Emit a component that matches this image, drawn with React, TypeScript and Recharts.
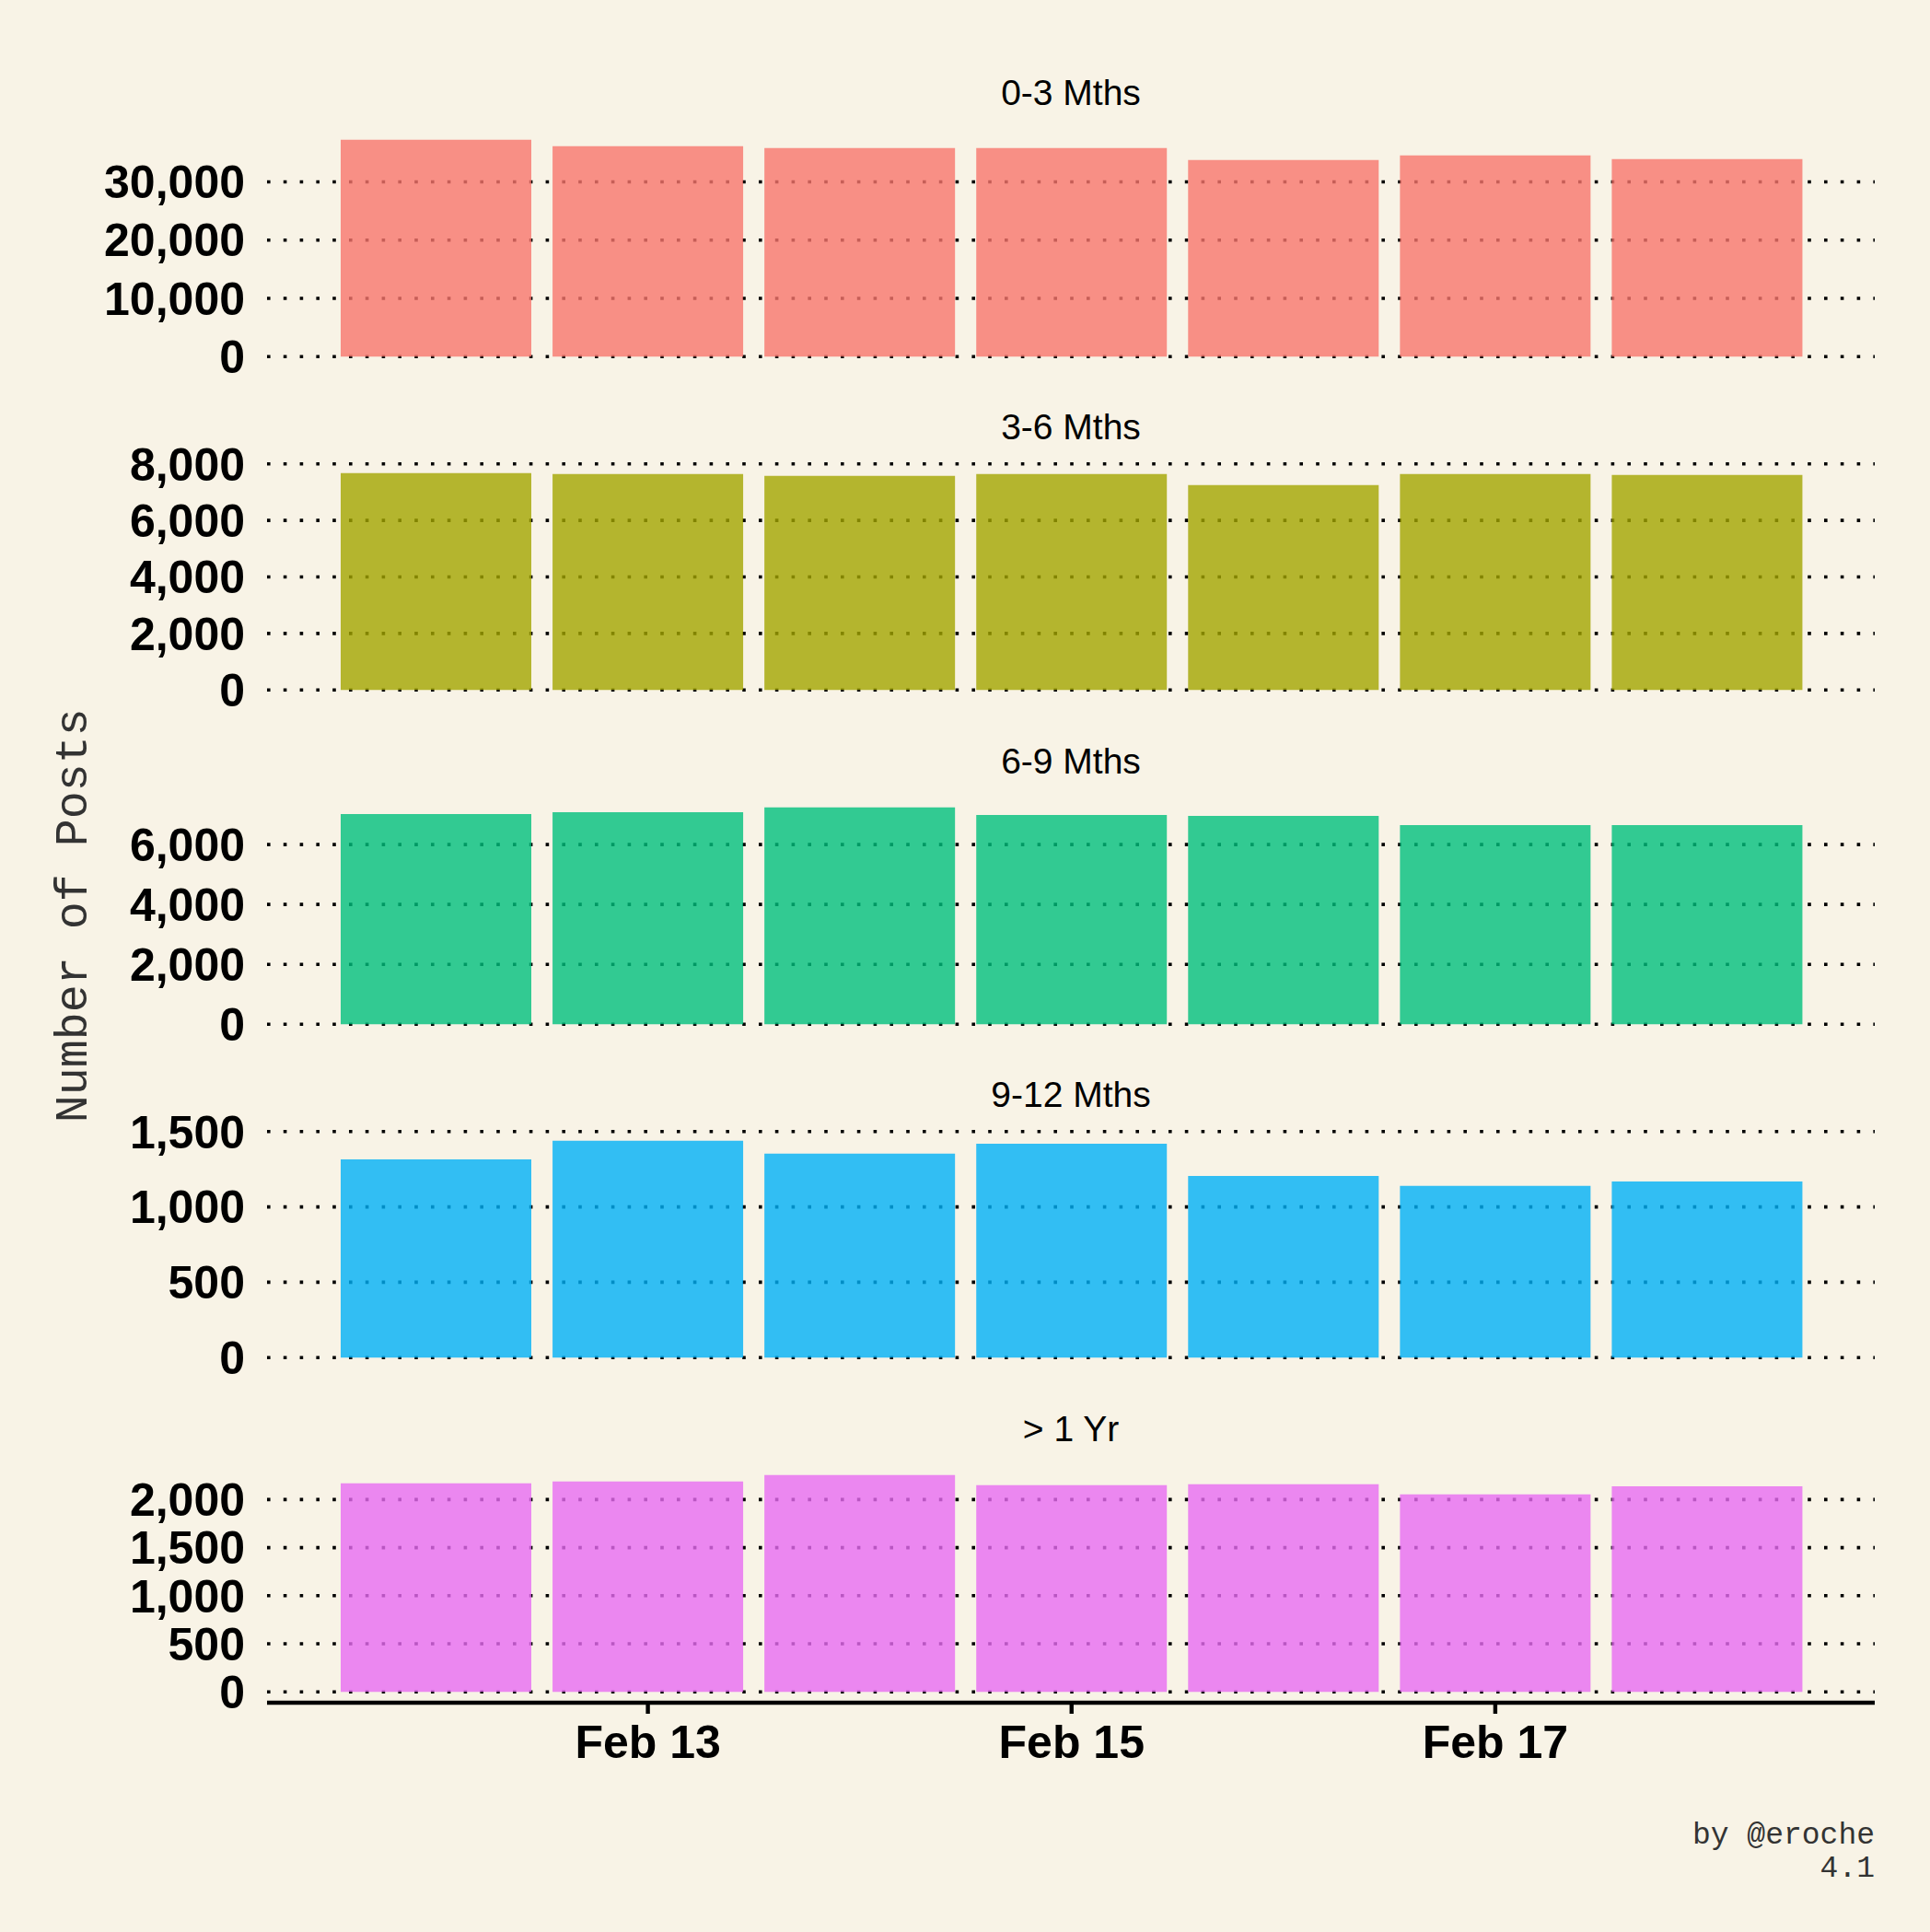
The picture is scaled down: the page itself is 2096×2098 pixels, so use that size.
import React from 'react';
import { BarChart, Bar, XAxis, YAxis, CartesianGrid } from 'recharts';

// ---- data ----
const dates = ['Feb 12', 'Feb 13', 'Feb 14', 'Feb 15', 'Feb 16', 'Feb 17', 'Feb 18'];
const posts0to3 = [37230, 36120, 35800, 35800, 33740, 34530, 33900];
const posts3to6 = [7675, 7640, 7580, 7640, 7250, 7640, 7610];
const posts6to9 = [7020, 7080, 7240, 6990, 6960, 6650, 6650];
const posts9to12 = [1316, 1439, 1353, 1420, 1206, 1139, 1169];
const postsOver1y = [2168, 2188, 2255, 2149, 2159, 2053, 2139];

const panelTitles = ['0-3 Mths', '3-6 Mths', '6-9 Mths', '9-12 Mths', '> 1 Yr'];
const panelColors = ['#F8766D', '#A3A500', '#00BF7D', '#00B0F6', '#E76BF3'];

const yTicks0to3 = [0, 10000, 20000, 30000];
const yTicks3to6 = [0, 2000, 4000, 6000, 8000];
const yTicks6to9 = [0, 2000, 4000, 6000];
const yTicks9to12 = [0, 500, 1000, 1500];
const yTicksOver1y = [0, 500, 1000, 1500, 2000];

const xTicks = ['Feb 13', 'Feb 15', 'Feb 17'];

const yLabel = 'Number of Posts';
const captionLines = ['by @eroche', '4.1'];

// ---- layout ----
const W = 2096;
const PAGE_H = 2098;
const BG = '#F8F3E6';
const PLOT_LEFT = 290;
const PLOT_RIGHT = 2036;
const FIRST_TOP = 139.5;
const STEP = 362.6;
const PLOT_H = 259;
const SANS = "'Liberation Sans', Arial, Helvetica, sans-serif";
const MONO = "'Courier New', Courier, 'Liberation Mono', monospace";

const panels = [
  { values: posts0to3, ticks: yTicks0to3 },
  { values: posts3to6, ticks: yTicks3to6 },
  { values: posts6to9, ticks: yTicks6to9 },
  { values: posts9to12, ticks: yTicks9to12 },
  { values: postsOver1y, ticks: yTicksOver1y },
];

function Panel({ values, ticks, color, index, showX }: any) {
  const data = dates.map((d, i) => ({ date: d, value: values[i] }));
  const mx = Math.max(...values);
  const top = FIRST_TOP + index * STEP;
  const mTop = 32;
  const mBottom = 32;
  const xh = showX ? 90 : 0;
  const height = PLOT_H + mTop + mBottom + xh;
  return (
    <div style={{ position: 'absolute', left: 0, top: top - mTop, width: W, height }}>
      <BarChart
        width={W}
        height={height}
        data={data}
        margin={{ top: mTop, right: W - PLOT_RIGHT, bottom: mBottom, left: 0 }}
        barCategoryGap="5%"
      >
        <CartesianGrid
          vertical={false}
          syncWithTicks
          stroke="#000"
          strokeWidth={3.6}
          strokeDasharray="3.6 14.2"
        />
        <XAxis
          dataKey="date"
          type="category"
          hide={!showX}
          height={xh}
          ticks={xTicks}
          interval={0}
          padding={{ left: 68.5, right: 67 }}
          axisLine={{ stroke: '#000', strokeWidth: 4.4 }}
          tickLine={{ stroke: '#000', strokeWidth: 4.4 }}
          tickSize={12}
          tickMargin={12}
          tick={{ fill: '#000', fontSize: 50, fontWeight: 700, fontFamily: SANS }}
        />
        <YAxis
          type="number"
          domain={[-0.05 * mx, 1.05 * mx]}
          allowDataOverflow
          ticks={ticks}
          interval={0}
          width={PLOT_LEFT}
          axisLine={false}
          tickLine={false}
          tickSize={0}
          tickMargin={24}
          tickFormatter={(v: number) => v.toLocaleString('en-US')}
          tick={{ fill: '#000', fontSize: 50, fontWeight: 700, fontFamily: SANS }}
        />
        <Bar dataKey="value" fill={color} fillOpacity={0.8} isAnimationActive={false} />
      </BarChart>
    </div>
  );
}

export default function App() {
  const plotCenterX = (PLOT_LEFT + PLOT_RIGHT) / 2;
  const stackCenterY = (FIRST_TOP + (FIRST_TOP + 4 * STEP + PLOT_H)) / 2;
  const labelX = 94;
  return (
    <div style={{ position: 'absolute', left: 0, top: 0, width: W, height: PAGE_H, background: BG, overflow: 'hidden' }}>
      <svg width={W} height={PAGE_H} style={{ position: 'absolute', left: 0, top: 0 }}>
        {panelTitles.map((t, i) => (
          <text
            key={t}
            x={plotCenterX}
            y={FIRST_TOP + i * STEP - 25.2}
            textAnchor="middle"
            fontFamily={SANS}
            fontSize={39}
            fill="#000"
          >
            {t}
          </text>
        ))}
        <text
          x={labelX}
          y={stackCenterY}
          transform={`rotate(-90 ${labelX} ${stackCenterY})`}
          textAnchor="middle"
          fontFamily={MONO}
          fontSize={50}
          fill="#333"
        >
          {yLabel}
        </text>
        {captionLines.map((c, i) => (
          <text key={c} x={2036} y={2001.7 + i * 36.6} textAnchor="end" fontFamily={MONO} fontSize={33} fill="#333">
            {c}
          </text>
        ))}
      </svg>
      {panels.map((p, i) => (
        <Panel key={i} values={p.values} ticks={p.ticks} color={panelColors[i]} index={i} showX={i === 4} />
      ))}
    </div>
  );
}
